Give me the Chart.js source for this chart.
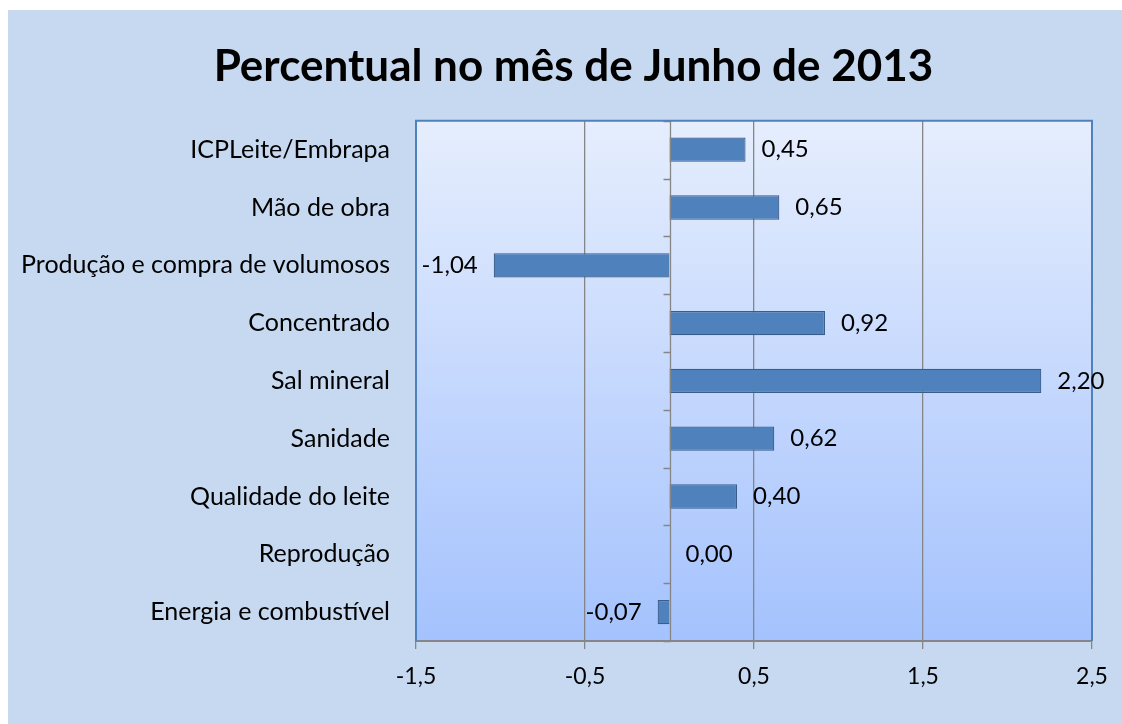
<!DOCTYPE html>
<html>
<head>
<meta charset="utf-8">
<script src="https://cdn.jsdelivr.net/npm/chart.js@4.4.0/dist/chart.umd.min.js"></script>
<style>
  body { margin: 0; background: #fff; }
  #wrap { position: absolute; left: 8px; top: 10px; width: 1114px; height: 714px; background: #c6d9f0; }
</style>
</head>
<body>
<div id="wrap"><canvas id="chart" width="1114" height="714"></canvas></div>
<script>
const categorias = [
  'ICPLeite/Embrapa',
  'Mão de obra',
  'Produção e compra de volumosos',
  'Concentrado',
  'Sal mineral',
  'Sanidade',
  'Qualidade do leite',
  'Reprodução',
  'Energia e combustível',
];
const percentual = [0.45, 0.65, -1.04, 0.92, 2.20, 0.62, 0.40, 0.00, -0.07];
const eixoX = { min: -1.5, max: 2.5, passo: 1 };
const titulo = 'Percentual no mês de Junho de 2013';

const FONTE = 'Lato, "DejaVu Sans", sans-serif';
const fmt = (v, casas) => Number(v).toFixed(casas).replace('.', ',');

// fundo em degrade da area de plotagem + borda azul + eixo no zero
const areaPlot = {
  id: 'areaPlot',
  afterLayout(chart) {
    // titulo um pouco deslocado para a direita, como no original
    if (chart.titleBlock) chart.titleBlock.left += 47;
  },
  beforeDraw(chart) {
    const { ctx, chartArea: a } = chart;
    const g = ctx.createLinearGradient(0, a.top, 0, a.bottom);
    g.addColorStop(0, '#e6eefd');
    g.addColorStop(1, '#a4c2fd');
    ctx.save();
    ctx.fillStyle = g;
    ctx.fillRect(a.left, a.top, a.right - a.left, a.bottom - a.top);
    ctx.restore();
  },
  afterDatasetsDraw(chart) {
    const { ctx, chartArea: a, scales } = chart;
    const x0 = Math.round(scales.x.getPixelForValue(0)) + 0.5;
    ctx.save();
    ctx.strokeStyle = '#868686';
    ctx.lineWidth = 1.3;
    ctx.beginPath();
    ctx.moveTo(x0, a.top);
    ctx.lineTo(x0, a.bottom);
    for (let i = 0; i <= categorias.length; i++) {
      const yy = Math.round(scales.y.getPixelForValue(i - 0.5)) + 0.5;
      ctx.moveTo(x0 - 7, yy);
      ctx.lineTo(x0, yy);
    }
    ctx.stroke();
    ctx.strokeStyle = '#4f81bd';
    ctx.lineWidth = 2;
    ctx.beginPath();
    ctx.moveTo(a.left, a.bottom);
    ctx.lineTo(a.left, a.top);
    ctx.lineTo(a.right, a.top);
    ctx.lineTo(a.right, a.bottom);
    ctx.stroke();
    ctx.restore();
  },
  afterDraw(chart) {
    // rotulos de dados
    const { ctx } = chart;
    const meta = chart.getDatasetMeta(0);
    ctx.save();
    ctx.font = '24px ' + FONTE;
    ctx.fillStyle = '#000';
    ctx.textBaseline = 'middle';
    meta.data.forEach((bar, i) => {
      const v = percentual[i];
      const txt = fmt(v, 2);
      if (v < 0) {
        ctx.textAlign = 'right';
        ctx.fillText(txt, bar.x - 16, bar.y);
      } else {
        ctx.textAlign = 'left';
        ctx.fillText(txt, bar.x + 16, bar.y);
      }
    });
    ctx.restore();
  },
};

new Chart(document.getElementById('chart'), {
  type: 'bar',
  data: {
    labels: categorias,
    datasets: [{
      data: percentual,
      backgroundColor: '#4f81bd',
      borderColor: '#385d8a',
      borderWidth: 1.2,
      categoryPercentage: 1,
      barPercentage: 0.42,
    }],
  },
  options: {
    indexAxis: 'y',
    responsive: false,
    animation: false,
    layout: { padding: { left: 0, right: 30, top: 0, bottom: 23 } },
    plugins: {
      legend: { display: false },
      tooltip: { enabled: false },
      title: {
        display: true,
        text: titulo,
        color: '#000',
        font: { family: FONTE, size: 44, weight: 'bold', lineHeight: 1.2 },
        padding: { top: 30, bottom: 28 },
      },
    },
    scales: {
      x: {
        min: eixoX.min,
        max: eixoX.max,
        afterFit(scale) { scale.height = 60; },
        ticks: {
          stepSize: eixoX.passo,
          color: '#000',
          padding: 14,
          font: { family: FONTE, size: 23 },
          callback: (v) => fmt(v, 1),
        },
        grid: { color: '#868686', lineWidth: 1.3, tickLength: 8 },
        border: { color: '#868686', width: 2 },
      },
      y: {
        afterFit(scale) { scale.width = 408; },
        grid: { display: false },
        border: { display: false },
        ticks: {
          color: '#000',
          padding: 18,
          font: { family: FONTE, size: 25 },
        },
      },
    },
  },
  plugins: [areaPlot],
});
</script>
</body>
</html>
